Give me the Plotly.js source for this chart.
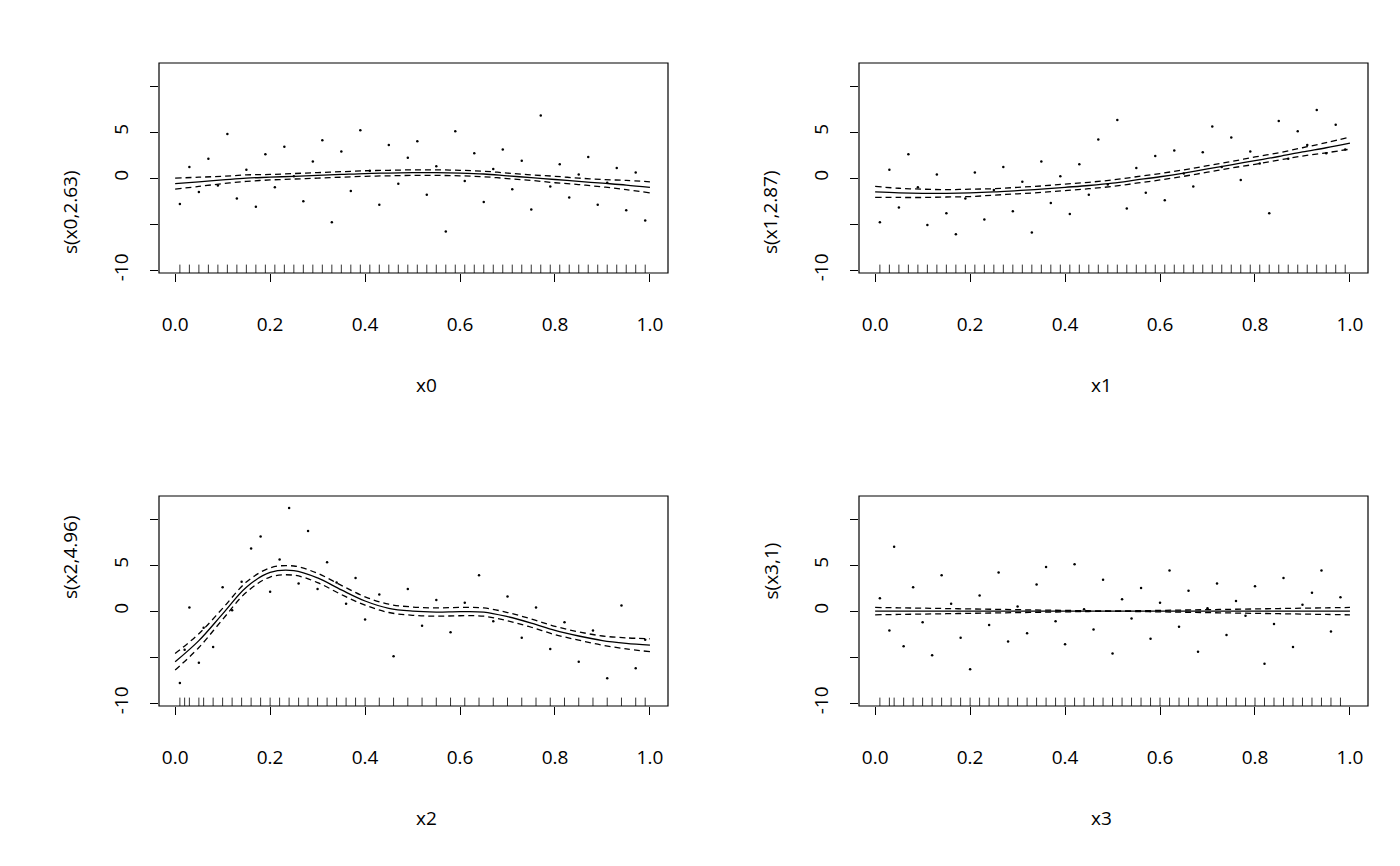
<!DOCTYPE html>
<html><head><meta charset="utf-8">
<script src="https://cdn.plot.ly/plotly-3.0.1.min.js"></script>
<style>body{margin:0;background:#fff}</style></head>
<body><div id="plot" style="width:1400px;height:866px"></div>
<script>
// smooth fits
var gridX = [0,0.05,0.1,0.15,0.2,0.25,0.3,0.35,0.4,0.45,0.5,0.55,0.6,0.65,0.7,0.75,0.8,0.85,0.9,0.95,1.0];
var fit0 = [-0.6,-0.4,-0.2,0,0.1,0.2,0.3,0.4,0.5,0.55,0.6,0.6,0.55,0.45,0.25,0.05,-0.15,-0.35,-0.55,-0.75,-1.0];
var se0  = [0.6,0.5,0.4,0.35,0.3,0.3,0.3,0.3,0.3,0.3,0.3,0.3,0.3,0.3,0.3,0.3,0.35,0.35,0.4,0.5,0.6];
var fit1 = [-1.5,-1.6,-1.65,-1.65,-1.6,-1.5,-1.35,-1.2,-1.0,-0.8,-0.55,-0.2,0.15,0.55,1.0,1.45,1.9,2.35,2.85,3.3,3.8];
var se1  = [0.6,0.5,0.45,0.4,0.4,0.35,0.35,0.35,0.35,0.35,0.35,0.35,0.35,0.35,0.35,0.35,0.4,0.4,0.45,0.55,0.65];
var fit2 = [-5.5,-3.2,-0.3,2.6,4.2,4.4,3.6,2.3,1.1,0.3,0,-0.1,-0.05,-0.1,-0.6,-1.3,-2.1,-2.7,-3.2,-3.5,-3.7];
var se2  = [0.9,0.75,0.6,0.55,0.5,0.5,0.5,0.5,0.45,0.45,0.45,0.45,0.45,0.45,0.45,0.45,0.45,0.45,0.5,0.6,0.7];
var fit3 = [0,0,0,0,0,0,0,0,0,0,0,0,0,0,0,0,0,0,0,0,0];
var se3  = [0.4,0.36,0.32,0.28,0.24,0.2,0.16,0.12,0.08,0.04,0.01,0.04,0.08,0.12,0.16,0.2,0.24,0.28,0.32,0.36,0.4];

// partial residuals (estimated)
var px0 = [0.01,0.03,0.05,0.07,0.09,0.11,0.13,0.15,0.17,0.19,0.21,0.23,0.25,0.27,0.29,0.31,0.33,0.35,0.37,0.39,0.41,0.43,0.45,0.47,0.49,0.51,0.53,0.55,0.57,0.59,0.61,0.63,0.65,0.67,0.69,0.71,0.73,0.75,0.77,0.79,0.81,0.83,0.85,0.87,0.89,0.91,0.93,0.95,0.97,0.99];
var py0 = [-2.8,1.2,-1.5,2.1,-0.8,4.8,-2.2,0.9,-3.1,2.6,-1.0,3.4,0.2,-2.5,1.8,4.1,-4.8,2.9,-1.4,5.2,0.8,-2.9,3.6,-0.6,2.2,4.0,-1.8,1.3,-5.8,5.1,-0.3,2.7,-2.6,1.0,3.1,-1.2,1.9,-3.4,6.8,-0.9,1.5,-2.1,0.4,2.3,-2.9,-0.5,1.1,-3.5,0.6,-4.6];
var px1 = [0.01,0.03,0.05,0.07,0.09,0.11,0.13,0.15,0.17,0.19,0.21,0.23,0.25,0.27,0.29,0.31,0.33,0.35,0.37,0.39,0.41,0.43,0.45,0.47,0.49,0.51,0.53,0.55,0.57,0.59,0.61,0.63,0.65,0.67,0.69,0.71,0.73,0.75,0.77,0.79,0.81,0.83,0.85,0.87,0.89,0.91,0.93,0.95,0.97,0.99];
var py1 = [-4.8,0.9,-3.2,2.6,-1.0,-5.1,0.4,-3.8,-6.1,-2.2,0.6,-4.5,-1.3,1.2,-3.6,-0.4,-5.9,1.8,-2.7,0.2,-3.9,1.5,-1.8,4.2,-0.7,6.3,-3.3,1.1,-1.6,2.4,-2.4,3.0,0.5,-0.9,2.8,5.6,1.2,4.4,-0.2,2.9,1.6,-3.8,6.2,2.1,5.1,3.6,7.4,2.7,5.8,3.1];
var px2 = [0.01,0.02,0.03,0.05,0.06,0.08,0.10,0.12,0.14,0.16,0.18,0.20,0.22,0.24,0.26,0.28,0.30,0.32,0.34,0.36,0.38,0.40,0.43,0.46,0.49,0.52,0.55,0.58,0.61,0.64,0.67,0.70,0.73,0.76,0.79,0.82,0.85,0.88,0.91,0.94,0.97,0.99];
var py2 = [-7.8,-4.2,0.4,-5.6,-1.8,-3.9,2.6,0.1,3.2,6.8,8.1,2.1,5.6,11.2,3.0,8.7,2.4,5.3,3.1,0.8,3.6,-0.9,1.8,-4.9,2.4,-1.6,1.2,-2.3,0.9,3.9,-1.1,1.6,-2.9,0.4,-4.1,-1.2,-5.5,-2.1,-7.3,0.6,-6.2,-3.1];
var px3 = [0.01,0.03,0.04,0.06,0.08,0.10,0.12,0.14,0.16,0.18,0.20,0.22,0.24,0.26,0.28,0.30,0.32,0.34,0.36,0.38,0.40,0.42,0.44,0.46,0.48,0.50,0.52,0.54,0.56,0.58,0.60,0.62,0.64,0.66,0.68,0.70,0.72,0.74,0.76,0.78,0.80,0.82,0.84,0.86,0.88,0.90,0.92,0.94,0.96,0.98];
var py3 = [1.4,-2.1,7.0,-3.8,2.6,-1.2,-4.8,3.9,0.8,-2.9,-6.3,1.7,-1.5,4.2,-3.3,0.5,-2.4,2.9,4.8,-1.1,-3.6,5.1,0.2,-2.0,3.4,-4.6,1.3,-0.8,2.5,-3.0,0.9,4.4,-1.7,2.2,-4.4,0.3,3.0,-2.6,1.1,-0.5,2.7,-5.7,-1.4,3.6,-3.9,0.7,2.0,4.4,-2.2,1.5];

var xTicks = [0, 0.2, 0.4, 0.6, 0.8, 1.0];
var xTickText = ['0.0', '0.2', '0.4', '0.6', '0.8', '1.0'];
var yTicks = [-10, -5, 0, 5, 10];
var yTickText = ['-10', '', '0', '5', ''];
var yLabels = ['s(x0,2.63)', 's(x1,2.87)', 's(x2,4.96)', 's(x3,1)'];
var xLabels = ['x0', 'x1', 'x2', 'x3'];

var fits = [fit0, fit1, fit2, fit3], ses = [se0, se1, se2, se3];
var pxs = [px0, px1, px2, px3], pys = [py0, py1, py2, py3];
var doms = [
  {x: [159/1400, 668/1400], y: [1-273/866, 1-63/866]},
  {x: [859/1400, 1368/1400], y: [1-273/866, 1-63/866]},
  {x: [159/1400, 668/1400], y: [1-706/866, 1-496/866]},
  {x: [859/1400, 1368/1400], y: [1-706/866, 1-496/866]}
];

var data = [], shapes = [], annotations = [];
var font = {family: 'Open Sans, sans-serif', size: 19, color: '#000'};
var layout = {
  width: 1400, height: 866, showlegend: false,
  margin: {l: 0, r: 0, t: 0, b: 0},
  paper_bgcolor: '#fff', plot_bgcolor: '#fff', font: font
};

for (var i = 0; i < 4; i++) {
  var sfx = i === 0 ? '' : String(i + 1);
  var xa = 'x' + sfx, ya = 'y' + sfx;
  var up = fits[i].map(function(v, k) { return v + ses[i][k]; });
  var lo = fits[i].map(function(v, k) { return v - ses[i][k]; });
  data.push({x: pxs[i], y: pys[i], xaxis: xa, yaxis: ya, mode: 'markers', type: 'scatter',
    marker: {color: '#000', size: 2.5}});
  data.push({x: pxs[i], y: pxs[i].map(function() { return -10.3; }), xaxis: xa, yaxis: ya,
    mode: 'markers', type: 'scatter', marker: {symbol: 'line-ns-open', size: 12, color: '#000', line: {width: 0.8}}});
  data.push({x: gridX, y: fits[i], xaxis: xa, yaxis: ya, mode: 'lines', type: 'scatter',
    line: {color: '#000', width: 1.3, shape: 'spline'}});
  data.push({x: gridX, y: up, xaxis: xa, yaxis: ya, mode: 'lines', type: 'scatter',
    line: {color: '#000', width: 1.3, dash: '6px,4px', shape: 'spline'}});
  data.push({x: gridX, y: lo, xaxis: xa, yaxis: ya, mode: 'lines', type: 'scatter',
    line: {color: '#000', width: 1.3, dash: '6px,4px', shape: 'spline'}});

  layout['xaxis' + sfx] = {domain: doms[i].x, anchor: ya, range: [-0.034, 1.038],
    tickvals: xTicks, ticktext: xTickText, ticks: 'outside', ticklen: 8, tickcolor: '#000',
    showgrid: false, zeroline: false, showline: false, ticklabelstandoff: 26, tickfont: font};
  layout['yaxis' + sfx] = {domain: doms[i].y, anchor: xa, range: [-10.3, 12.5],
    tickvals: yTicks, ticktext: yTickText, ticks: 'outside', ticklen: 8, tickcolor: '#000',
    tickangle: -90, showgrid: false, zeroline: false, showline: false, ticklabelstandoff: 14, tickfont: font};
  shapes.push({type: 'rect', xref: 'paper', yref: 'paper', x0: doms[i].x[0], x1: doms[i].x[1],
    y0: doms[i].y[0], y1: doms[i].y[1], line: {color: '#000', width: 1.2}});
  annotations.push({xref: 'paper', yref: 'paper', x: (doms[i].x[0] + doms[i].x[1]) / 2,
    y: doms[i].y[0] - 112/866, text: xLabels[i], showarrow: false, font: font, yanchor: 'middle'});
  annotations.push({xref: 'paper', yref: 'paper', x: doms[i].x[0] - 89/1400,
    y: (doms[i].y[0] + doms[i].y[1]) / 2, text: yLabels[i], showarrow: false, font: font,
    textangle: -90, xanchor: 'center'});
}
layout.shapes = shapes;
layout.annotations = annotations;
Plotly.newPlot('plot', data, layout, {staticPlot: true});
</script></body></html>
